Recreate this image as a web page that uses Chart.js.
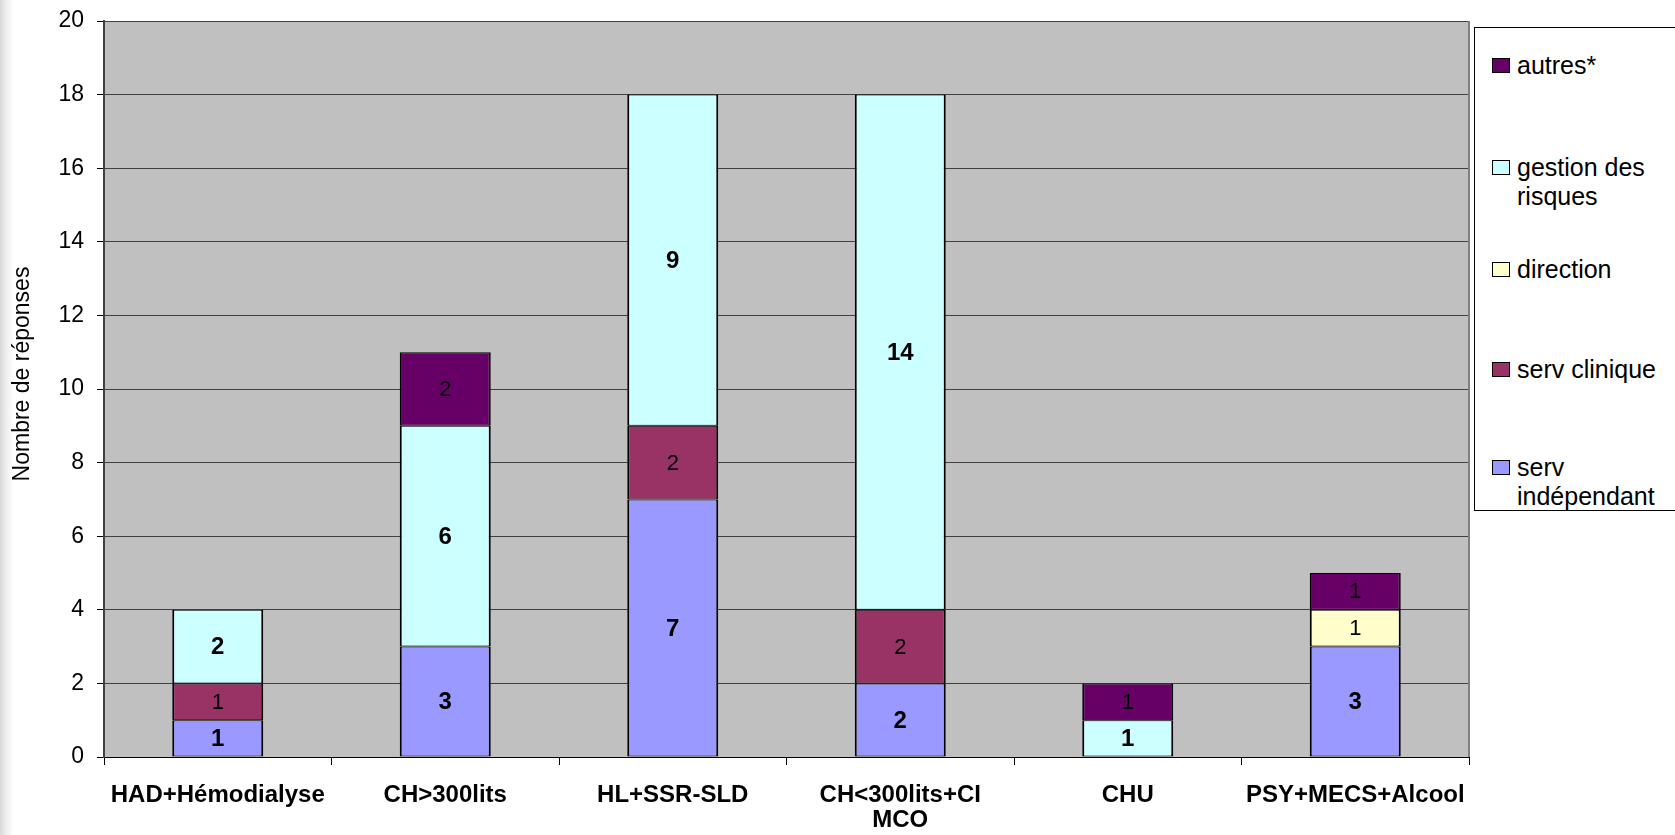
<!DOCTYPE html>
<html>
<head>
<meta charset="utf-8">
<script src="https://cdn.jsdelivr.net/npm/chart.js@4.4.1/dist/chart.umd.min.js"></script>
<style>
  html, body { margin: 0; padding: 0; }
  body {
    width: 1675px; height: 835px; overflow: hidden; position: relative;
    background: linear-gradient(to right, #d8d8d8 0px, #eeeeee 6px, #ffffff 14px);
    font-family: "Liberation Sans", Arial, sans-serif;
  }
  #c { position: absolute; left: 0; top: 0; }
  #legend {
    position: absolute; left: 1474px; top: 27px; width: 215px; height: 484px;
    border: 1px solid #000; background: #fff; box-sizing: border-box;
  }
  .lg-item { position: absolute; left: 0; width: 190px; }
  .lg-sw {
    position: absolute; left: 17px; top: 7px; width: 18px; height: 15px;
    border: 1px solid #000; box-sizing: border-box;
  }
  .lg-tx {
    position: absolute; left: 42px; top: 0; width: 150px;
    font-size: 25px; line-height: 29px; color: #000; white-space: normal;
  }
</style>
</head>
<body>
<canvas id="c" width="1675" height="835"></canvas>
<div id="legend"></div>
<script>
// ---- data ----
const categories = ['HAD+Hémodialyse', 'CH>300lits', 'HL+SSR-SLD', ['CH<300lits+CI', 'MCO'], 'CHU', 'PSY+MECS+Alcool'];
const servIndependant = [1, 3, 7, 2, 0, 3];
const servClinique    = [1, 0, 2, 2, 0, 0];
const direction       = [0, 0, 0, 0, 0, 1];
const gestionRisques  = [2, 6, 9, 14, 1, 0];
const autres          = [0, 2, 0, 0, 1, 1];
const seriesNames = ['serv indépendant', 'serv clinique', 'direction', 'gestion des risques', 'autres*'];
const yMin = 0, yMax = 20, yStep = 2;
const yTitle = 'Nombre de réponses';

// ---- styles ----
const seriesColors = ['#9999FF', '#993366', '#FFFFCC', '#CCFFFF', '#660066'];
const seriesBoldLabels = [true, false, false, true, false];
const legendTextLines = [['serv', 'indépendant'], ['serv clinique'], ['direction'], ['gestion des', 'risques'], ['autres*']];
const legendTops = [425, 327, 227, 125, 23]; // inside-box top of each legend entry (index = series)

const seriesValues = [servIndependant, servClinique, direction, gestionRisques, autres];
const FONT = '"Liberation Sans", Arial, sans-serif';

const datasets = seriesNames.map((name, i) => ({
  label: name,
  data: seriesValues[i],
  backgroundColor: seriesColors[i],
  borderColor: '#000',
  borderWidth: (ctx) => (ctx.raw === 0 ? 0 : { left: 2, right: 2, top: 1, bottom: 1 }),
  borderSkipped: false,
  categoryPercentage: 1.0,
  barPercentage: 0.4
}));

const plotBg = {
  id: 'plotBg',
  beforeDraw(chart) {
    const { ctx, chartArea: a } = chart;
    ctx.save();
    ctx.fillStyle = '#C0C0C0';
    ctx.fillRect(a.left, a.top, a.right - a.left, a.bottom - a.top);
    ctx.restore();
  },
  afterDraw(chart) {
    const { ctx, chartArea: a } = chart;
    ctx.save();
    ctx.strokeStyle = '#808080';
    ctx.lineWidth = 2;
    ctx.beginPath();
    ctx.moveTo(a.right, a.top);
    ctx.lineTo(a.right, a.bottom);
    ctx.stroke();
    // y-axis title
    ctx.translate(23, (a.top + a.bottom) / 2 - 15);
    ctx.rotate(-Math.PI / 2);
    ctx.fillStyle = '#000';
    ctx.font = '23px ' + FONT;
    ctx.textAlign = 'center';
    ctx.textBaseline = 'middle';
    ctx.fillText(yTitle, 0, 0);
    ctx.restore();
  }
};

const barLabels = {
  id: 'barLabels',
  afterDatasetsDraw(chart) {
    const { ctx } = chart;
    ctx.save();
    ctx.fillStyle = '#000';
    ctx.textAlign = 'center';
    ctx.textBaseline = 'middle';
    chart.data.datasets.forEach((ds, i) => {
      const meta = chart.getDatasetMeta(i);
      ctx.font = (seriesBoldLabels[i] ? 'bold 24px ' : '22px ') + FONT;
      meta.data.forEach((bar, j) => {
        const v = ds.data[j];
        if (!v) return;
        ctx.fillText(String(v), bar.x, (bar.y + bar.base) / 2 + 1);
      });
    });
    ctx.restore();
  }
};

new Chart(document.getElementById('c'), {
  type: 'bar',
  data: { labels: categories, datasets },
  options: {
    responsive: false,
    animation: false,
    events: [],
    layout: { padding: { left: 0, right: 206, top: 21, bottom: 0 } },
    plugins: { legend: { display: false }, tooltip: { enabled: false } },
    scales: {
      x: {
        stacked: true,
        afterFit(scale) { scale.height = 78; scale.paddingLeft = 0; scale.paddingRight = 0; },
        grid: {
          display: true, drawOnChartArea: false, drawTicks: true,
          tickLength: 8, color: '#000', tickColor: '#000', offset: true
        },
        border: { display: true, color: '#000', width: 1 },
        ticks: {
          color: '#000', padding: 18, maxRotation: 0, autoSkip: false,
          font: { family: FONT, size: 24, weight: 'bold', lineHeight: 1.05 }
        }
      },
      y: {
        stacked: true,
        min: yMin, max: yMax,
        afterFit(scale) { scale.width = 104; scale.paddingTop = 0; scale.paddingBottom = 0; },
        grid: { color: '#404040', tickColor: '#000', tickLength: 7, lineWidth: 1 },
        border: { display: true, color: '#404040', width: 2 },
        ticks: {
          stepSize: yStep, color: '#000', padding: 13,
          font: { family: FONT, size: 23 }
        }
      }
    }
  },
  plugins: [plotBg, barLabels]
});

// ---- HTML legend (built from the same series arrays) ----
const lg = document.getElementById('legend');
seriesNames.forEach((name, i) => {
  const item = document.createElement('div');
  item.className = 'lg-item';
  item.style.top = legendTops[i] + 'px';
  const sw = document.createElement('div');
  sw.className = 'lg-sw';
  sw.style.background = seriesColors[i];
  const tx = document.createElement('div');
  tx.className = 'lg-tx';
  tx.innerHTML = legendTextLines[i].map(s => s.replace(/&/g, '&amp;').replace(/</g, '&lt;')).join('<br>');
  item.appendChild(sw);
  item.appendChild(tx);
  lg.appendChild(item);
});
</script>
</body>
</html>
